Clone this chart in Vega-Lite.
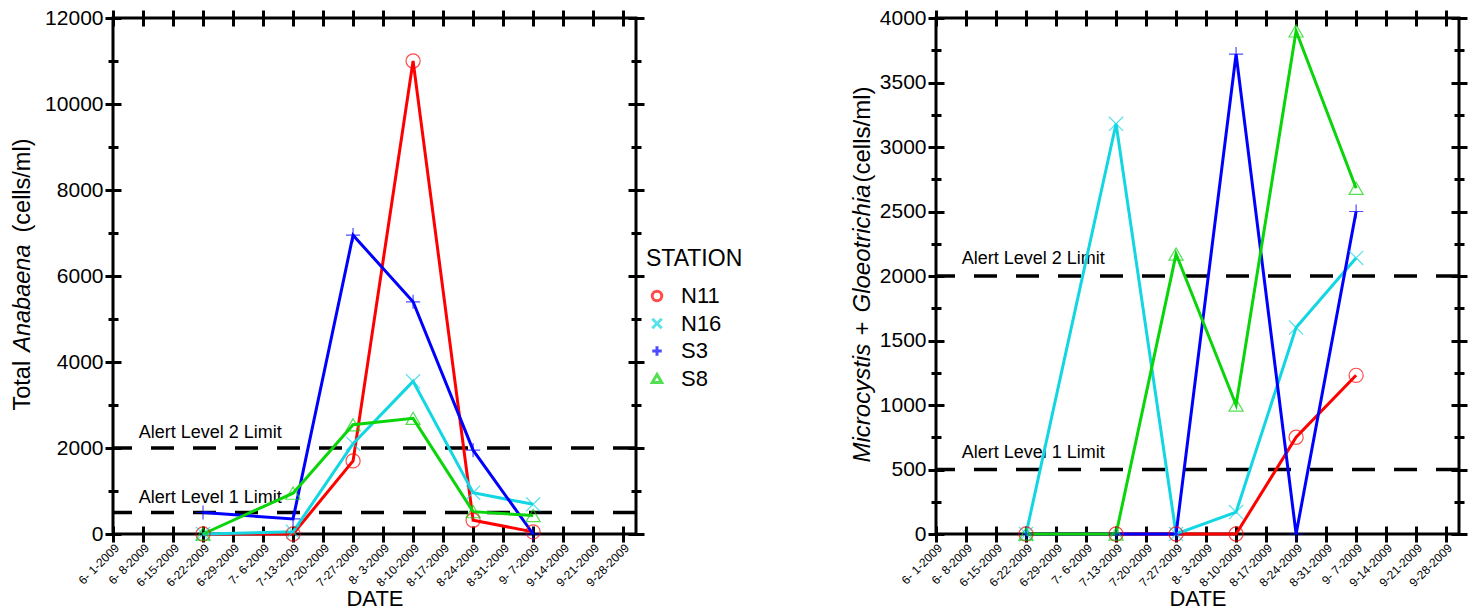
{
  "$schema": "https://vega.github.io/schema/vega-lite/v6.json",
  "padding": {"left": 8, "top": 5, "right": 2, "bottom": 2},
  "background": "white",
  "bounds": "flush",
  "spacing": 300,
  "datasets": {
    "anabaena": [
      {"station": "N11", "date": "2009-06-22", "cells": 0},
      {"station": "N11", "date": "2009-07-13", "cells": 0},
      {"station": "N11", "date": "2009-07-27", "cells": 1700},
      {"station": "N11", "date": "2009-08-10", "cells": 11000},
      {"station": "N11", "date": "2009-08-24", "cells": 320},
      {"station": "N11", "date": "2009-09-07", "cells": 50},
      {"station": "N16", "date": "2009-06-22", "cells": 0},
      {"station": "N16", "date": "2009-07-13", "cells": 50},
      {"station": "N16", "date": "2009-07-27", "cells": 2100},
      {"station": "N16", "date": "2009-08-10", "cells": 3550},
      {"station": "N16", "date": "2009-08-24", "cells": 960},
      {"station": "N16", "date": "2009-09-07", "cells": 690},
      {"station": "S3", "date": "2009-06-22", "cells": 500},
      {"station": "S3", "date": "2009-07-13", "cells": 350},
      {"station": "S3", "date": "2009-07-27", "cells": 6950},
      {"station": "S3", "date": "2009-08-10", "cells": 5400},
      {"station": "S3", "date": "2009-08-24", "cells": 1950},
      {"station": "S3", "date": "2009-09-07", "cells": 0},
      {"station": "S8", "date": "2009-06-22", "cells": 0},
      {"station": "S8", "date": "2009-07-13", "cells": 950},
      {"station": "S8", "date": "2009-07-27", "cells": 2540},
      {"station": "S8", "date": "2009-08-10", "cells": 2690},
      {"station": "S8", "date": "2009-08-24", "cells": 520},
      {"station": "S8", "date": "2009-09-07", "cells": 430}
    ],
    "microgloeo": [
      {"station": "N11", "date": "2009-06-22", "cells": 0},
      {"station": "N11", "date": "2009-07-13", "cells": 0},
      {"station": "N11", "date": "2009-07-27", "cells": 0},
      {"station": "N11", "date": "2009-08-10", "cells": 0},
      {"station": "N11", "date": "2009-08-24", "cells": 750},
      {"station": "N11", "date": "2009-09-07", "cells": 1230},
      {"station": "N16", "date": "2009-06-22", "cells": 0},
      {"station": "N16", "date": "2009-07-13", "cells": 3180},
      {"station": "N16", "date": "2009-07-27", "cells": 0},
      {"station": "N16", "date": "2009-08-10", "cells": 170},
      {"station": "N16", "date": "2009-08-24", "cells": 1600},
      {"station": "N16", "date": "2009-09-07", "cells": 2140},
      {"station": "S3", "date": "2009-06-22", "cells": 0},
      {"station": "S3", "date": "2009-07-13", "cells": 0},
      {"station": "S3", "date": "2009-07-27", "cells": 0},
      {"station": "S3", "date": "2009-08-10", "cells": 3720},
      {"station": "S3", "date": "2009-08-24", "cells": 0},
      {"station": "S3", "date": "2009-09-07", "cells": 2500},
      {"station": "S8", "date": "2009-06-22", "cells": 0},
      {"station": "S8", "date": "2009-07-13", "cells": 0},
      {"station": "S8", "date": "2009-07-27", "cells": 2170},
      {"station": "S8", "date": "2009-08-10", "cells": 1000},
      {"station": "S8", "date": "2009-08-24", "cells": 3900},
      {"station": "S8", "date": "2009-09-07", "cells": 2680}
    ],
    "alerts": [
      {"label": "Alert Level 2 Limit", "limit": 2000},
      {"label": "Alert Level 1 Limit", "limit": 500}
    ]
  },
  "hconcat": [
    {
      "width": 523,
      "height": 516,
      "resolve": {"axis": {"x": "independent", "y": "independent"}},
      "layer": [
        {
          "data": {"name": "alerts"},
          "mark": {"type": "rule", "color": "black", "strokeWidth": 3.5, "strokeDash": [23, 19]},
          "encoding": {
            "y": {"field": "limit", "type": "quantitative",
              "scale": {"domain": [0, 12000], "nice": false},
              "axis": {"orient": "left", "values": [0, 2000, 4000, 6000, 8000, 10000, 12000], "format": "d", "labelPadding": 2, "offset": -8, "tickSize": 16,
                "title": "Total", "titleFontSize": 23.5, "titleAngle": 270, "titleAlign": "left", "titleBaseline": "alphabetic", "titleX": -92, "titleY": 392}}
          }
        },
        {
          "data": {"name": "alerts"},
          "mark": {"type": "text", "align": "left", "baseline": "middle", "dy": -15, "fontSize": 18, "color": "black"},
          "encoding": {
            "x": {"datum": {"year": 2009, "month": 6, "date": 7, "utc": true}, "type": "temporal",
              "scale": {"type": "utc", "domain": [{"year": 2009, "month": 6, "date": 1, "utc": true}, {"year": 2009, "month": 10, "date": 1, "utc": true}]},
              "axis": null},
            "y": {"field": "limit", "type": "quantitative",
              "axis": {"orient": "left", "values": [1000, 3000, 5000, 7000, 9000, 11000], "labels": false, "offset": -5, "tickSize": 10,
                "title": "Anabaena", "titleFontStyle": "italic", "titleFontSize": 23.5, "titleAngle": 270, "titleAlign": "left", "titleBaseline": "alphabetic", "titleX": -89, "titleY": 333.2}},
            "text": {"field": "label"}
          }
        },
        {
          "data": {"name": "anabaena"},
          "mark": {"type": "line", "strokeWidth": 3},
          "encoding": {
            "x": {"field": "date", "type": "temporal",
              "scale": {"type": "utc", "domain": [{"year": 2009, "month": 6, "date": 1, "utc": true}, {"year": 2009, "month": 10, "date": 1, "utc": true}]},
              "axis": {"orient": "bottom", "values": [{"year":2009,"month":6,"date":1,"utc":true},{"year":2009,"month":6,"date":8,"utc":true},{"year":2009,"month":6,"date":15,"utc":true},{"year":2009,"month":6,"date":22,"utc":true},{"year":2009,"month":6,"date":29,"utc":true},{"year":2009,"month":7,"date":6,"utc":true},{"year":2009,"month":7,"date":13,"utc":true},{"year":2009,"month":7,"date":20,"utc":true},{"year":2009,"month":7,"date":27,"utc":true},{"year":2009,"month":8,"date":3,"utc":true},{"year":2009,"month":8,"date":10,"utc":true},{"year":2009,"month":8,"date":17,"utc":true},{"year":2009,"month":8,"date":24,"utc":true},{"year":2009,"month":8,"date":31,"utc":true},{"year":2009,"month":9,"date":7,"utc":true},{"year":2009,"month":9,"date":14,"utc":true},{"year":2009,"month":9,"date":21,"utc":true},{"year":2009,"month":9,"date":28,"utc":true}],
                "format": "%-m-%e-%Y", "labelAngle": -45, "labelAlign": "right", "labelBaseline": "top", "labelFontSize": 12, "labelPadding": 0, "labelOverlap": false, "labelFlush": false, "labelBound": false,
                "offset": -8, "tickSize": 16, "title": "DATE", "titleFontSize": 22, "titleBaseline": "alphabetic", "titleY": 79}},
            "y": {"field": "cells", "type": "quantitative",
              "axis": {"orient": "right", "values": [0, 2000, 4000, 6000, 8000, 10000, 12000], "labels": false, "offset": -8, "tickSize": 16,
                "title": "(cells/ml)", "titleFontSize": 23.5, "titleAngle": 270, "titleAlign": "left", "titleBaseline": "alphabetic", "titleX": -599, "titleY": 214}},
            "color": {"field": "station", "type": "nominal",
              "scale": {"domain": ["N11", "N16", "S3", "S8"], "range": ["#ff0000", "#12d6e2", "#0000ff", "#0ad40a"]}}
          }
        },
        {
          "data": {"name": "anabaena"},
          "mark": {"type": "point", "filled": false, "size": 200, "strokeWidth": 1.2},
          "encoding": {
            "x": {"field": "date", "type": "temporal", "axis": {"orient": "top", "values": [{"year":2009,"month":6,"date":1,"utc":true},{"year":2009,"month":6,"date":8,"utc":true},{"year":2009,"month":6,"date":15,"utc":true},{"year":2009,"month":6,"date":22,"utc":true},{"year":2009,"month":6,"date":29,"utc":true},{"year":2009,"month":7,"date":6,"utc":true},{"year":2009,"month":7,"date":13,"utc":true},{"year":2009,"month":7,"date":20,"utc":true},{"year":2009,"month":7,"date":27,"utc":true},{"year":2009,"month":8,"date":3,"utc":true},{"year":2009,"month":8,"date":10,"utc":true},{"year":2009,"month":8,"date":17,"utc":true},{"year":2009,"month":8,"date":24,"utc":true},{"year":2009,"month":8,"date":31,"utc":true},{"year":2009,"month":9,"date":7,"utc":true},{"year":2009,"month":9,"date":14,"utc":true},{"year":2009,"month":9,"date":21,"utc":true},{"year":2009,"month":9,"date":28,"utc":true}],
              "labels": false, "offset": -8, "tickSize": 16, "title": null}},
            "y": {"field": "cells", "type": "quantitative",
              "axis": {"orient": "right", "values": [1000, 3000, 5000, 7000, 9000, 11000], "labels": false, "offset": -5, "tickSize": 10, "title": null}},
            "color": {"field": "station", "type": "nominal",
              "scale": {"domain": ["N11", "N16", "S3", "S8"], "range": ["#ff0000", "#12d6e2", "#0000ff", "#0ad40a"]},
              "legend": {"title": "STATION", "orient": "none", "legendX": 533, "legendY": 230}},
            "shape": {"field": "station", "type": "nominal",
              "scale": {"domain": ["N11", "N16", "S3", "S8"], "range": ["circle", "M-1,-1L1,1M-1,1L1,-1", "M-1,0L1,0M0,-1L0,1", "triangle-up"]},
              "legend": {"title": "STATION", "orient": "none", "legendX": 533, "legendY": 230}}
          }
        }
      ]
    },
    {
      "width": 523,
      "height": 516,
      "resolve": {"axis": {"x": "independent", "y": "independent"}},
      "layer": [
        {
          "data": {"name": "alerts"},
          "mark": {"type": "rule", "color": "black", "strokeWidth": 3.5, "strokeDash": [23, 19]},
          "encoding": {
            "y": {"field": "limit", "type": "quantitative",
              "scale": {"domain": [0, 4000], "nice": false},
              "axis": {"orient": "left", "values": [0, 500, 1000, 1500, 2000, 2500, 3000, 3500, 4000], "format": "d", "labelPadding": 2, "offset": -8, "tickSize": 16,
                "title": "Microcystis", "titleFontStyle": "italic", "titleFontSize": 24, "titleAngle": 270, "titleAlign": "left", "titleBaseline": "alphabetic", "titleX": -75, "titleY": 444}}
          }
        },
        {
          "data": {"name": "alerts"},
          "mark": {"type": "text", "align": "left", "baseline": "middle", "dy": -17, "fontSize": 18, "color": "black"},
          "encoding": {
            "x": {"datum": {"year": 2009, "month": 6, "date": 7, "utc": true}, "type": "temporal",
              "scale": {"type": "utc", "domain": [{"year": 2009, "month": 6, "date": 1, "utc": true}, {"year": 2009, "month": 10, "date": 1, "utc": true}]},
              "axis": null},
            "y": {"field": "limit", "type": "quantitative",
              "axis": {"orient": "left", "values": [250, 750, 1250, 1750, 2250, 2750, 3250, 3750], "labels": false, "offset": -5, "tickSize": 10,
                "title": "+", "titleFontSize": 24, "titleAngle": 270, "titleAlign": "center", "titleBaseline": "alphabetic", "titleX": -72, "titleY": 310}},
            "text": {"field": "label"}
          }
        },
        {
          "data": {"name": "microgloeo"},
          "mark": {"type": "line", "strokeWidth": 3},
          "encoding": {
            "x": {"field": "date", "type": "temporal",
              "scale": {"type": "utc", "domain": [{"year": 2009, "month": 6, "date": 1, "utc": true}, {"year": 2009, "month": 10, "date": 1, "utc": true}]},
              "axis": {"orient": "bottom", "values": [{"year":2009,"month":6,"date":1,"utc":true},{"year":2009,"month":6,"date":8,"utc":true},{"year":2009,"month":6,"date":15,"utc":true},{"year":2009,"month":6,"date":22,"utc":true},{"year":2009,"month":6,"date":29,"utc":true},{"year":2009,"month":7,"date":6,"utc":true},{"year":2009,"month":7,"date":13,"utc":true},{"year":2009,"month":7,"date":20,"utc":true},{"year":2009,"month":7,"date":27,"utc":true},{"year":2009,"month":8,"date":3,"utc":true},{"year":2009,"month":8,"date":10,"utc":true},{"year":2009,"month":8,"date":17,"utc":true},{"year":2009,"month":8,"date":24,"utc":true},{"year":2009,"month":8,"date":31,"utc":true},{"year":2009,"month":9,"date":7,"utc":true},{"year":2009,"month":9,"date":14,"utc":true},{"year":2009,"month":9,"date":21,"utc":true},{"year":2009,"month":9,"date":28,"utc":true}],
                "format": "%-m-%e-%Y", "labelAngle": -45, "labelAlign": "right", "labelBaseline": "top", "labelFontSize": 12, "labelPadding": 0, "labelOverlap": false, "labelFlush": false, "labelBound": false,
                "offset": -8, "tickSize": 16, "title": "DATE", "titleFontSize": 22, "titleBaseline": "alphabetic", "titleY": 79}},
            "y": {"field": "cells", "type": "quantitative",
              "axis": {"orient": "right", "values": [0, 500, 1000, 1500, 2000, 2500, 3000, 3500, 4000], "labels": false, "offset": -8, "tickSize": 16,
                "title": "Gloeotrichia", "titleFontStyle": "italic", "titleFontSize": 24, "titleAngle": 270, "titleAlign": "left", "titleBaseline": "alphabetic", "titleX": -582, "titleY": 294}},
            "color": {"field": "station", "type": "nominal",
              "scale": {"domain": ["N11", "N16", "S3", "S8"], "range": ["#ff0000", "#12d6e2", "#0000ff", "#0ad40a"]}}
          }
        },
        {
          "data": {"name": "microgloeo"},
          "mark": {"type": "point", "filled": false, "size": 200, "strokeWidth": 1.2},
          "encoding": {
            "x": {"field": "date", "type": "temporal", "axis": {"orient": "top", "values": [{"year":2009,"month":6,"date":1,"utc":true},{"year":2009,"month":6,"date":8,"utc":true},{"year":2009,"month":6,"date":15,"utc":true},{"year":2009,"month":6,"date":22,"utc":true},{"year":2009,"month":6,"date":29,"utc":true},{"year":2009,"month":7,"date":6,"utc":true},{"year":2009,"month":7,"date":13,"utc":true},{"year":2009,"month":7,"date":20,"utc":true},{"year":2009,"month":7,"date":27,"utc":true},{"year":2009,"month":8,"date":3,"utc":true},{"year":2009,"month":8,"date":10,"utc":true},{"year":2009,"month":8,"date":17,"utc":true},{"year":2009,"month":8,"date":24,"utc":true},{"year":2009,"month":8,"date":31,"utc":true},{"year":2009,"month":9,"date":7,"utc":true},{"year":2009,"month":9,"date":14,"utc":true},{"year":2009,"month":9,"date":21,"utc":true},{"year":2009,"month":9,"date":28,"utc":true}],
              "labels": false, "offset": -8, "tickSize": 16, "title": null}},
            "y": {"field": "cells", "type": "quantitative",
              "axis": {"orient": "right", "values": [250, 750, 1250, 1750, 2250, 2750, 3250, 3750], "labels": false, "offset": -5, "tickSize": 10,
                "title": "(cells/ml)", "titleFontSize": 24, "titleAngle": 270, "titleAlign": "left", "titleBaseline": "alphabetic", "titleX": -585, "titleY": 164}},
            "color": {"field": "station", "type": "nominal",
              "scale": {"domain": ["N11", "N16", "S3", "S8"], "range": ["#ff0000", "#12d6e2", "#0000ff", "#0ad40a"]}},
            "shape": {"field": "station", "type": "nominal",
              "scale": {"domain": ["N11", "N16", "S3", "S8"], "range": ["circle", "M-1,-1L1,1M-1,1L1,-1", "M-1,0L1,0M0,-1L0,1", "triangle-up"]}}
          }
        }
      ]
    }
  ],
  "config": {
    "font": "Liberation Sans",
    "view": {"stroke": "black", "strokeWidth": 3},
    "axis": {
      "domain": false, "grid": false,
      "tickColor": "black", "tickWidth": 3,
      "labelColor": "black", "labelFont": "Liberation Sans", "labelFontSize": 21,
      "titleColor": "black", "titleFont": "Liberation Sans", "titleFontWeight": "normal"
    },
    "legend": {
      "titleFontSize": 23, "titleFontWeight": "normal", "titleColor": "black",
      "labelFontSize": 22, "labelColor": "black",
      "symbolStrokeWidth": 3, "symbolSize": 90, "rowPadding": 5.5, "titlePadding": 14, "labelOffset": 13, "padding": 0
    }
  }
}
